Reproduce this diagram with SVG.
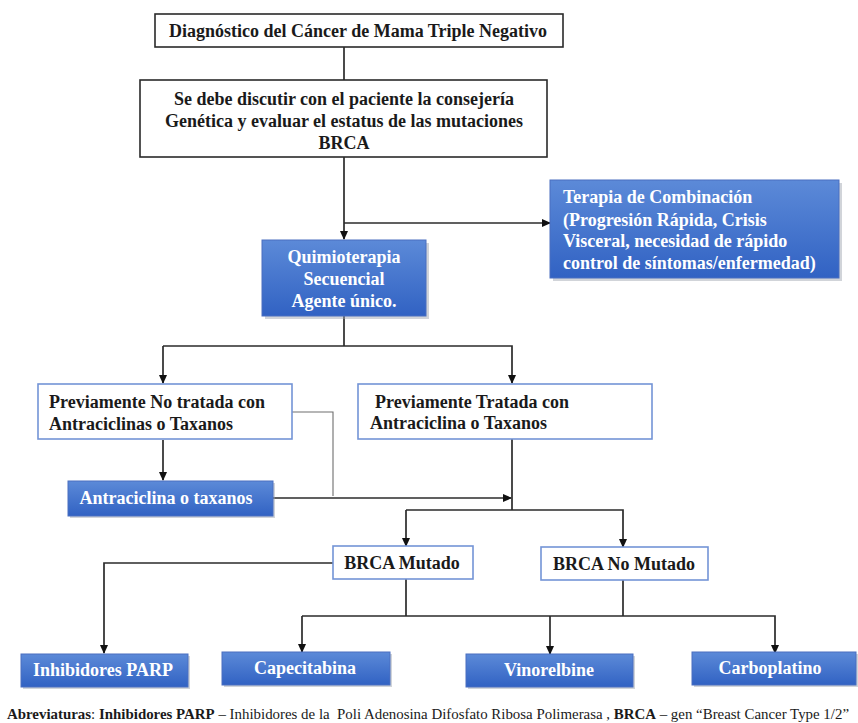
<svg xmlns="http://www.w3.org/2000/svg" width="858" height="723" viewBox="0 0 858 723">
<style>
  .t { font-family: "Liberation Serif", "Times New Roman", serif; font-weight: bold; font-size: 18px; fill: #1a1a1a; }
  .w { fill: #ffffff; }
  .c { text-anchor: middle; }
  .bk { fill: #ffffff; stroke: #2a2a2a; stroke-width: 1.6; }
  .bl { fill: #ffffff; stroke: #7394d6; stroke-width: 1.6; }
  .bf { fill: url(#blue); stroke: #4a6fc0; stroke-width: 1; }
  .sh { fill: #9aa0aa; opacity: 0.45; }
  .ln { fill: none; stroke: #2b2b2b; stroke-width: 1.7; }
  .lg { fill: none; stroke: #6e6e6e; stroke-width: 1.1; }
  .ar { marker-end: url(#ah); }
  .ft { font-family: "Liberation Serif", "Times New Roman", serif; font-size: 15px; fill: #1a1a1a; }
  .fb { font-weight: bold; }
</style>
<defs>
  <linearGradient id="blue" x1="0" y1="0" x2="0" y2="1">
    <stop offset="0" stop-color="#5c8ad8"/>
    <stop offset="1" stop-color="#3162c3"/>
  </linearGradient>
  <marker id="ah" markerWidth="10" markerHeight="10" refX="8" refY="5" orient="auto" markerUnits="userSpaceOnUse">
    <path d="M0,1 L9,5 L0,9 Z" fill="#111"/>
  </marker>
</defs>
<rect width="858" height="723" fill="#ffffff"/>

<g id="connectors">
  <path class="ln" d="M344,47 V80"/>
  <path class="ln ar" d="M344,157 V239"/>
  <path class="ln ar" d="M344,223 H550"/>
  <path class="ln" d="M344,316 V346"/>
  <path class="ln ar" d="M163,346 H512 V383"/>
  <path class="ln ar" d="M163,346 V383"/>
  <path class="ln ar" d="M163,440 V480"/>
  <path class="lg" d="M292,412 H333 V496"/>
  <path class="ln ar" d="M273,498 H511"/>
  <path class="ln" d="M512,439 V510"/>
  <path class="ln ar" d="M406,510 V546"/>
  <path class="ln ar" d="M406,510 H623 V547"/>
  <path class="ln ar" d="M333,563 H104 V653"/>
  <path class="ln" d="M406,579 V616"/>
  <path class="ln" d="M623,580 V616"/>
  <path class="ln ar" d="M302,616 V652"/>
  <path class="ln ar" d="M302,616 H775 V653"/>
  <path class="ln ar" d="M550,616 V654"/>
</g>

<g id="n-diagnostico">
  <rect class="bk" x="155" y="14" width="408" height="33"/>
  <text class="t c" x="358" y="37">Diagnóstico del Cáncer de Mama Triple Negativo</text>
</g>

<g id="n-consejeria">
  <rect class="bk" x="140" y="80" width="407" height="77"/>
  <text class="t c" x="344" y="105">Se debe discutir con el paciente la consejería</text>
  <text class="t c" x="344" y="127">Genética y evaluar el estatus de las mutaciones</text>
  <text class="t c" x="344" y="149">BRCA</text>
</g>

<g id="n-terapia">
  <rect class="sh" x="553" y="183" width="289" height="98"/>
  <rect class="bf" x="550" y="180" width="289" height="98"/>
  <text class="t w" x="563" y="203">Terapia de Combinación</text>
  <text class="t w" x="563" y="226">(Progresión Rápida, Crisis</text>
  <text class="t w" x="563" y="247">Visceral, necesidad de rápido</text>
  <text class="t w" x="563" y="269">control de síntomas/enfermedad)</text>
</g>

<g id="n-quimio">
  <rect class="sh" x="265" y="243" width="164" height="76"/>
  <rect class="bf" x="262" y="240" width="164" height="76"/>
  <text class="t w c" x="344" y="263">Quimioterapia</text>
  <text class="t w c" x="344" y="285">Secuencial</text>
  <text class="t w c" x="344" y="307">Agente único.</text>
</g>

<g id="n-no-tratada">
  <rect class="bl" x="38" y="384" width="254" height="55"/>
  <text class="t" x="49" y="408">Previamente No tratada con</text>
  <text class="t" x="49" y="430">Antraciclinas o Taxanos</text>
</g>

<g id="n-antraciclina">
  <rect class="sh" x="70" y="483" width="205" height="35"/>
  <rect class="bf" x="68" y="481" width="205" height="35"/>
  <text class="t w c" x="166" y="504">Antraciclina o taxanos</text>
</g>

<g id="n-tratada">
  <rect class="bl" x="358" y="384" width="294" height="55"/>
  <text class="t" x="375" y="408">Previamente Tratada con</text>
  <text class="t" x="370" y="429">Antraciclina o Taxanos</text>
</g>

<g id="n-brca-mutado">
  <rect class="bl" x="333" y="546" width="140" height="33"/>
  <text class="t c" x="402" y="569">BRCA Mutado</text>
</g>

<g id="n-brca-no-mutado">
  <rect class="bl" x="541" y="547" width="167" height="33"/>
  <text class="t c" x="624" y="570">BRCA No Mutado</text>
</g>

<g id="n-parp">
  <rect class="sh" x="23" y="656" width="167" height="33"/>
  <rect class="bf" x="21" y="654" width="167" height="33"/>
  <text class="t w c" x="103" y="676">Inhibidores PARP</text>
</g>

<g id="n-capecitabina">
  <rect class="sh" x="224" y="654" width="168" height="33"/>
  <rect class="bf" x="222" y="652" width="168" height="33"/>
  <text class="t w c" x="305" y="674">Capecitabina</text>
</g>

<g id="n-vinorelbine">
  <rect class="sh" x="468" y="656" width="167" height="33"/>
  <rect class="bf" x="466" y="654" width="167" height="33"/>
  <text class="t w c" x="549" y="676">Vinorelbine</text>
</g>

<g id="n-carboplatino">
  <rect class="sh" x="694" y="654" width="165" height="33"/>
  <rect class="bf" x="692" y="652" width="164" height="33"/>
  <text class="t w c" x="770" y="674">Carboplatino</text>
</g>

<text class="ft" x="7" y="719" textLength="842" lengthAdjust="spacingAndGlyphs"><tspan class="fb">Abreviaturas</tspan>: <tspan class="fb">Inhibidores PARP</tspan> – Inhibidores de la&#160; Poli Adenosina Difosfato Ribosa Polimerasa , <tspan class="fb">BRCA</tspan> – gen “Breast Cancer Type 1/2”</text>
</svg>
